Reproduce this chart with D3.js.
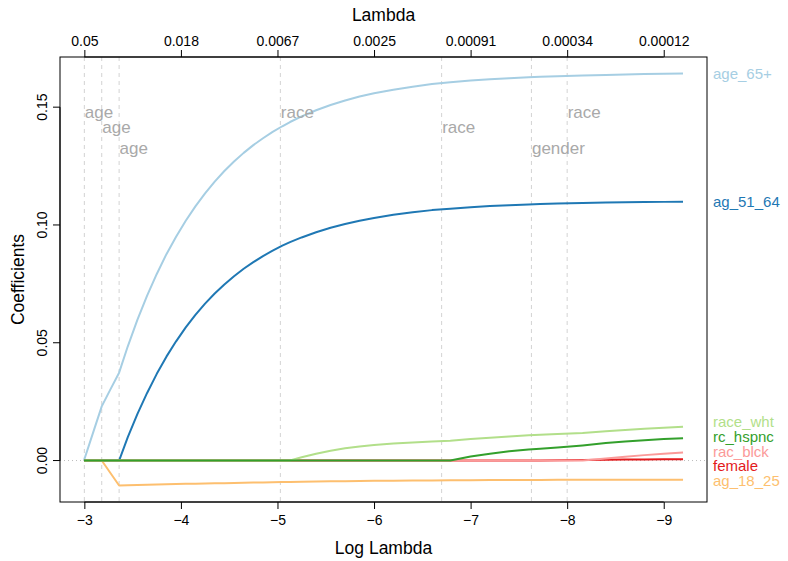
<!DOCTYPE html>
<html>
<head>
<meta charset="utf-8">
<script src="https://cdn.jsdelivr.net/npm/d3@7"></script>
<style>
  body { margin: 0; background: #fff; }
  svg text { font-family: "Liberation Sans", Arial, sans-serif; }
</style>
</head>
<body>
<script>
(function(){

    //log lambda values along the path
    var logLambda = [-2.996, -3.1, -3.18, -3.27, -3.36, -3.45, -3.55, -3.65, -3.75, -3.85,
        -3.95, -4.05, -4.15, -4.25, -4.35, -4.45, -4.55, -4.65, -4.75, -4.85,
        -4.95, -5.05, -5.13, -5.25, -5.4, -5.55, -5.7, -5.85, -6.0, -6.2,
        -6.4, -6.6, -6.79, -7.0, -7.2, -7.4, -7.6, -7.72, -7.9, -8.16,
        -8.4, -8.6, -8.8, -9.0, -9.2];

    //coefficient paths, one array per variable
    var age65 = [0, 0.013, 0.023, 0.0302, 0.0373, 0.0485, 0.0598, 0.0700, 0.0792, 0.0876,
        0.0950, 0.1018, 0.1079, 0.1134, 0.1184, 0.1229, 0.1269, 0.1306, 0.1339, 0.1368,
        0.1395, 0.1419, 0.1437, 0.1461, 0.1487, 0.1509, 0.1528, 0.1545, 0.1559, 0.1574,
        0.1587, 0.1598, 0.1606, 0.1613, 0.1618, 0.1623, 0.1627, 0.1629, 0.1631, 0.1634,
        0.1637, 0.1639, 0.1641, 0.1642, 0.1643];
    var ag5164 = [0, 0, 0, 0, 0, 0.0099, 0.0198, 0.0287, 0.0368, 0.0441,
        0.0506, 0.0565, 0.0618, 0.0666, 0.0709, 0.0747, 0.0782, 0.0814, 0.0842, 0.0868,
        0.0891, 0.0912, 0.0927, 0.0947, 0.0969, 0.0988, 0.1004, 0.1018, 0.1030, 0.1043,
        0.1054, 0.1063, 0.1069, 0.1075, 0.1080, 0.1084, 0.1087, 0.1089, 0.1091, 0.1093,
        0.1095, 0.1096, 0.1097, 0.1098, 0.1099];
    var ag1825 = [0, 0, 0, -0.0053, -0.0106, -0.0105, -0.0104, -0.0103, -0.0102, -0.0101,
        -0.0100, -0.0099, -0.0098, -0.0097, -0.0096, -0.0096, -0.0095, -0.0094, -0.0093, -0.0093,
        -0.0092, -0.0091, -0.0091, -0.0090, -0.0089, -0.0088, -0.0088, -0.0087, -0.0086, -0.0086,
        -0.0085, -0.0085, -0.0084, -0.0084, -0.0083, -0.0083, -0.0083, -0.0083, -0.0082, -0.0082,
        -0.0082, -0.0082, -0.0082, -0.0082, -0.0082];
    var female = [0, 0, 0, 0, 0, 0, 0, 0, 0, 0,
        0, 0, 0, 0, 0, 0, 0, 0, 0, 0,
        0, 0, 0, 0, 0, 0, 0, 0, 0, 0,
        0, 0, 0, 0, 0, 0, 0, 0, 0.0001, 0.0002,
        0.0003, 0.0004, 0.0004, 0.0005, 0.0005];
    var racBlck = [0, 0, 0, 0, 0, 0, 0, 0, 0, 0,
        0, 0, 0, 0, 0, 0, 0, 0, 0, 0,
        0, 0, 0, 0, 0, 0, 0, 0, 0, 0,
        0, 0, 0, 0, 0, 0, 0, 0, 0, 0,
        0.0009, 0.0016, 0.0023, 0.0029, 0.0034];
    var raceWht = [0, 0, 0, 0, 0, 0, 0, 0, 0, 0,
        0, 0, 0, 0, 0, 0, 0, 0, 0, 0,
        0, 0, 0, 0.0014, 0.0029, 0.0042, 0.0052, 0.0060, 0.0066, 0.0072,
        0.0077, 0.0081, 0.0084, 0.0091, 0.0097, 0.0102, 0.0107, 0.0110, 0.0113, 0.0117,
        0.0124, 0.0130, 0.0135, 0.0139, 0.0143];
    var rcHspnc = [0, 0, 0, 0, 0, 0, 0, 0, 0, 0,
        0, 0, 0, 0, 0, 0, 0, 0, 0, 0,
        0, 0, 0, 0, 0, 0, 0, 0, 0, 0,
        0, 0, 0, 0.0017, 0.0029, 0.0039, 0.0047, 0.0050, 0.0055, 0.0064,
        0.0074, 0.0081, 0.0086, 0.0091, 0.0095];

    var seriesNames = ["age_65+", "ag_51_64", "ag_18_25", "female", "rac_blck", "race_wht", "rc_hspnc"];
    var seriesValues = [age65, ag5164, ag1825, female, racBlck, raceWht, rcHspnc];

    //where variable groups enter the model
    var entryLambda = [-3.0, -3.18, -3.36, -5.03, -6.7, -7.63, -8.0];
    var entryLabels = ["age", "age", "age", "race", "race", "gender", "race"];
    var entryLevel = [0, 1, 2, 0, 1, 2, 0];

    //axis ticks
    var xTicks = [-3, -4, -5, -6, -7, -8, -9];
    var lambdaLabels = ["0.05", "0.018", "0.0067", "0.0025", "0.00091", "0.00034", "0.00012"];
    var yTicks = [0, 0.05, 0.10, 0.15];

    var width = 788, height = 561;
    var box = {left: 60, right: 707, top: 57, bottom: 502};

    var colors = {
        "age_65+": "#a6cee3", "ag_51_64": "#1f78b4", "race_wht": "#b2df8a",
        "rc_hspnc": "#33a02c", "rac_blck": "#fb9a99", "female": "#e31a1c", "ag_18_25": "#fdbf6f"
    };

    var svg = d3.select("body").append("svg")
        .attr("width", width)
        .attr("height", height);

    //R style axis ranges, 4% padding on data range
    var xExt = d3.extent(logLambda), xPad = (xExt[1] - xExt[0]) * 0.04;
    var x = d3.scaleLinear()
        .domain([xExt[1] + xPad, xExt[0] - xPad])
        .range([box.left, box.right]);

    var allVals = d3.merge(seriesValues);
    var yExt = d3.extent(allVals), yPad = (yExt[1] - yExt[0]) * 0.04;
    var y = d3.scaleLinear()
        .domain([yExt[0] - yPad, yExt[1] + yPad])
        .range([box.bottom, box.top]);

    //dashed entry lines
    svg.selectAll(".entry")
        .data(entryLambda)
        .enter()
        .append("line")
        .attr("x1", function(d){ return x(d); })
        .attr("x2", function(d){ return x(d); })
        .attr("y1", box.top)
        .attr("y2", box.bottom)
        .attr("stroke", "#d3d3d3")
        .attr("stroke-width", 1)
        .attr("stroke-dasharray", "4,4");

    //dotted zero line
    svg.append("line")
        .attr("x1", box.left).attr("x2", box.right)
        .attr("y1", y(0)).attr("y2", y(0))
        .attr("stroke", "#bbb")
        .attr("stroke-dasharray", "1,3");

    //coefficient paths
    var line = d3.line()
        .x(function(d){ return x(d[0]); })
        .y(function(d){ return y(d[1]); });

    seriesNames.forEach(function(name, i){
        svg.append("path")
            .datum(d3.zip(logLambda, seriesValues[i]))
            .attr("fill", "none")
            .attr("stroke", colors[name])
            .attr("stroke-width", 2)
            .attr("stroke-linejoin", "round")
            .attr("d", line);
    });

    //grey group labels
    var levelOffset = [112, 127, 148];
    svg.selectAll(".entryLabel")
        .data(entryLambda)
        .enter()
        .append("text")
        .attr("x", function(d){ return x(d) + 0.5; })
        .attr("y", function(d, i){ return levelOffset[entryLevel[i]]; })
        .attr("dy", "0.35em")
        .attr("fill", "#a9a9a9")
        .style("font-size", "17px")
        .text(function(d, i){ return entryLabels[i]; });

    //right side labels, overlapping ones are spread around their mean
    var gap = 14.8;
    var labels = seriesNames.map(function(name, i){
        var v = seriesValues[i];
        return {name: name, target: y(v[v.length - 1])};
    }).sort(function(a, b){ return a.target - b.target; });

    var clusters = labels.map(function(d){ return {items: [d], pos: d.target}; });
    var merged = true;
    while (merged){
        merged = false;
        for (var c = 0; c < clusters.length - 1; c++){
            var a = clusters[c], b = clusters[c + 1];
            var aEnd = a.pos + (a.items.length - 1) * gap / 2;
            var bStart = b.pos - (b.items.length - 1) * gap / 2;
            if (bStart - aEnd < gap){
                var items = a.items.concat(b.items);
                clusters.splice(c, 2, {items: items, pos: d3.mean(items, function(d){ return d.target; })});
                merged = true;
                break;
            }
        }
    }
    clusters.forEach(function(cl){
        var start = cl.pos - (cl.items.length - 1) * gap / 2;
        cl.items.forEach(function(d, k){ d.y = start + k * gap; });
    });

    svg.selectAll(".endLabel")
        .data(labels)
        .enter()
        .append("text")
        .attr("x", box.right + 6)
        .attr("y", function(d){ return d.y; })
        .attr("dy", "0.35em")
        .attr("fill", function(d){ return colors[d.name]; })
        .style("font-size", "15px")
        .text(function(d){ return d.name; });

    //plot frame
    svg.append("rect")
        .attr("x", box.left).attr("y", box.top)
        .attr("width", box.right - box.left)
        .attr("height", box.bottom - box.top)
        .attr("fill", "none")
        .attr("stroke", "#000")
        .attr("stroke-width", 1);

    //bottom axis: log lambda
    var minus = function(d){ return String(d).replace("-", "\u2212"); };
    var xAxis = svg.append("g")
        .attr("transform", "translate(0," + box.bottom + ")")
        .call(d3.axisBottom(x).tickValues(xTicks).tickSize(7).tickPadding(6).tickFormat(minus));

    //top axis: lambda
    var topAxis = svg.append("g")
        .attr("transform", "translate(0," + box.top + ")")
        .call(d3.axisTop(x).tickValues(xTicks).tickSize(7).tickPadding(4)
            .tickFormat(function(d, i){ return lambdaLabels[i]; }));

    //left axis: coefficients
    var yAxis = svg.append("g")
        .attr("transform", "translate(" + box.left + ",0)")
        .call(d3.axisLeft(y).tickValues(yTicks).tickSize(7).tickFormat(d3.format(".2f")));

    yAxis.selectAll("text")
        .attr("transform", function(d){ return "rotate(-90," + (-18) + "," + y(d) + ")"; })
        .attr("x", -18)
        .attr("y", function(d){ return y(d); })
        .attr("dy", "0.35em")
        .attr("text-anchor", "middle");
    yAxis.selectAll(".tick").attr("transform", null);
    yAxis.selectAll(".tick line")
        .attr("y1", function(d){ return y(d); })
        .attr("y2", function(d){ return y(d); });

    [xAxis, topAxis, yAxis].forEach(function(g){
        g.select(".domain").remove();
        g.selectAll("text").style("font-size", "14px").attr("fill", "#000")
            .style("font-family", "'Liberation Sans', Arial, sans-serif");
        g.selectAll("line").attr("stroke", "#000");
    });

    //axis lines only span the tick range, as in R
    xAxis.append("line").attr("x1", x(-3)).attr("x2", x(-9)).attr("stroke", "#000");
    topAxis.append("line").attr("x1", x(-3)).attr("x2", x(-9)).attr("stroke", "#000");
    yAxis.append("line").attr("y1", y(0)).attr("y2", y(0.15)).attr("stroke", "#000");

    //axis titles
    svg.append("text")
        .attr("x", (box.left + box.right) / 2)
        .attr("y", 548)
        .attr("dy", "0.35em")
        .attr("text-anchor", "middle")
        .style("font-size", "17.5px")
        .text("Log Lambda");

    svg.append("text")
        .attr("x", (box.left + box.right) / 2)
        .attr("y", 15)
        .attr("dy", "0.35em")
        .attr("text-anchor", "middle")
        .style("font-size", "17.5px")
        .text("Lambda");

    svg.append("text")
        .attr("transform", "translate(18," + (box.top + box.bottom) / 2 + ") rotate(-90)")
        .attr("dy", "0.35em")
        .attr("text-anchor", "middle")
        .style("font-size", "17.5px")
        .text("Coefficients");

})();
</script>
</body>
</html>
